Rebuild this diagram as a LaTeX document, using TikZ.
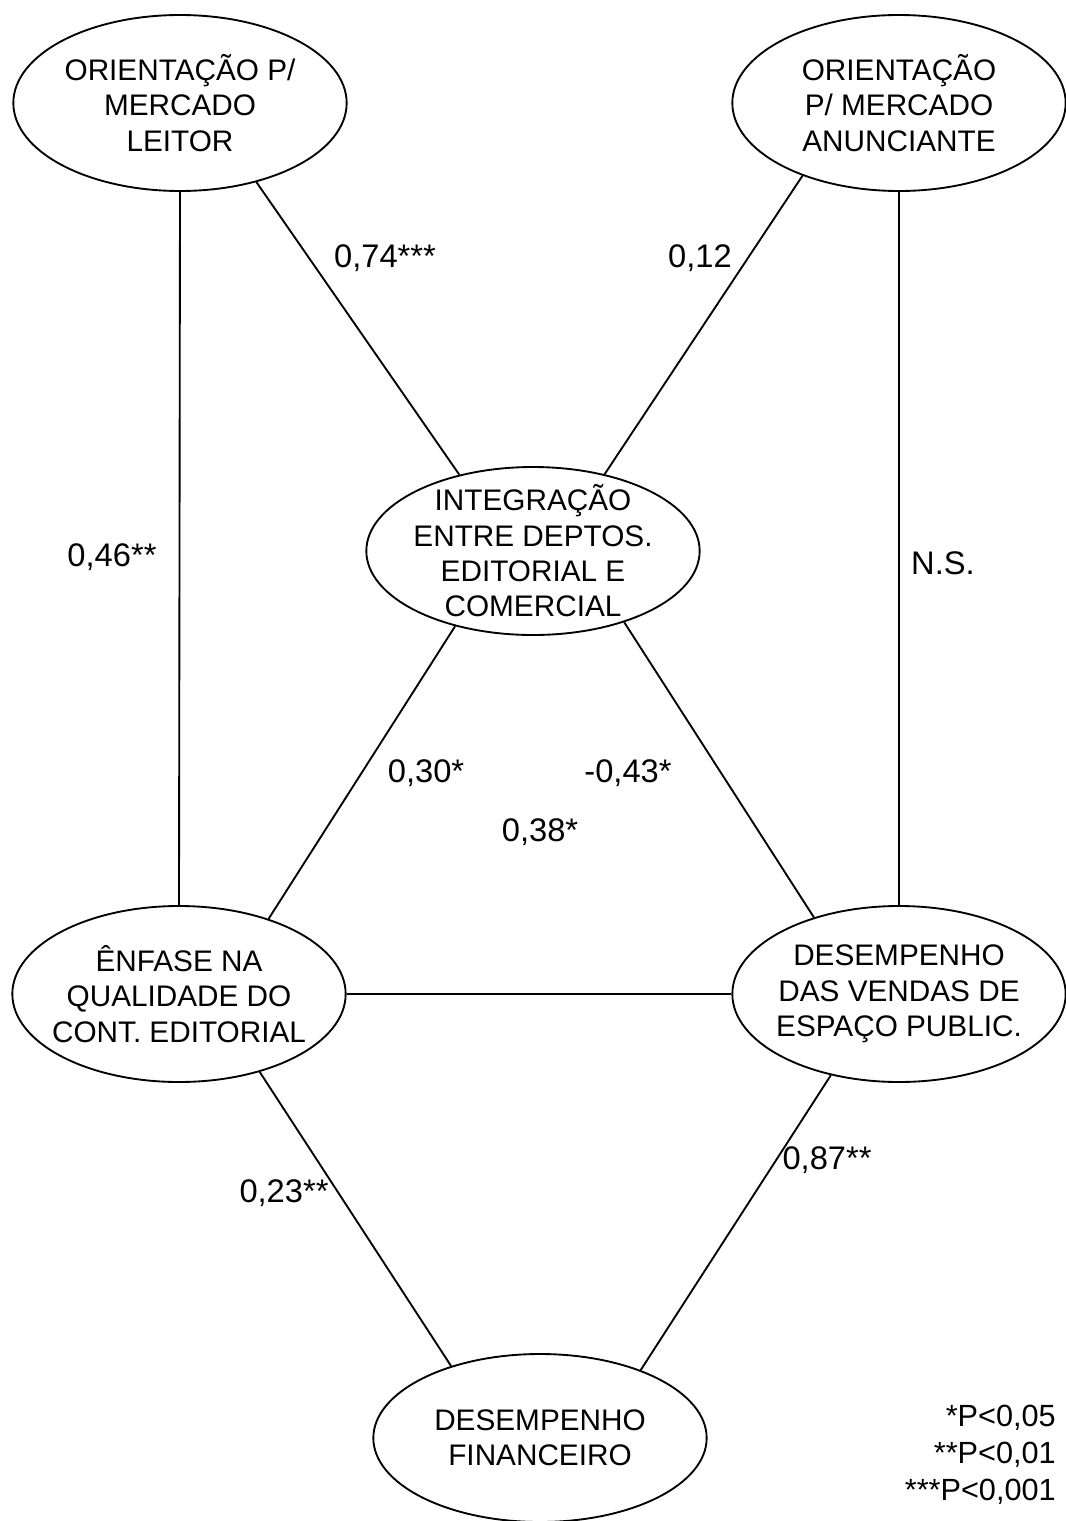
\documentclass[tikz,border=0pt]{standalone}
\usepackage{fontspec}
\setmainfont{Liberation Sans}
\usetikzlibrary{shapes.geometric}
\begin{document}
\begin{tikzpicture}[x=0.75pt,y=-0.75pt,
  % fixed-size ellipse; its text is set as a centred label so it never widens the shape
  construct/.style={ellipse,draw,line width=1.4pt,inner sep=0pt,
    minimum width=250pt,minimum height=132pt,
    label={[align=center,inner sep=0pt,font=\fontsize{22.3}{26.5}\selectfont]center:#1}},
  flat/.style={construct={#1},minimum height=126pt},
  link/.style={line width=1.4pt},
  coef/.style={inner sep=0pt,font=\fontsize{24.5}{28}\selectfont}]
\useasboundingbox (0,0) rectangle (1065,1521);

% constructs
\node[construct={ORIENTAÇÃO P/\\MERCADO\\LEITOR}] (A) at (180,103) {};
\node[construct={ORIENTAÇÃO\\P/ MERCADO\\ANUNCIANTE}] (B) at (899,103) {};
\node[flat={INTEGRAÇÃO\\ENTRE DEPTOS.\\EDITORIAL E\\COMERCIAL}] (C) at (533,551) {};
\node[construct={ÊNFASE NA\\QUALIDADE DO\\CONT. EDITORIAL}] (D) at (179,994) {};
\node[construct={DESEMPENHO\\DAS VENDAS DE\\ESPAÇO PUBLIC.}] (E) at (899,994) {};
\node[flat={DESEMPENHO\\FINANCEIRO}] (F) at (540,1438) {};

% paths between constructs
\draw[link] (A.south) -- (D.north);
\draw[link] (A.-46.7) -- (C.134.6);
\draw[link] (B.-143.1) -- (C.47.1);
\draw[link] (B.south) -- (E.north);
\draw[link] (C.-136) -- (D.40.7);
\draw[link] (C.-38.5) -- (E.138.7);
\draw[link] (D.east) -- (E.west);
\draw[link] (D.-44.3) -- (F.141.6);
\draw[link] (E.-130.8) -- (F.34.8);

% path coefficients
\node[coef] (cAC) at (385,258) {0,74***};
\node[coef] (cBC) at (700,258) {0,12};
\node[coef] (cAD) at (112,557) {0,46**};
\node[coef] (cBE) at (943,563) {N.S.};
\node[coef] (cCD) at (426,773) {0,30*};
\node[coef] (cCE) at (628,773) {-0,43*};
\node[coef] (cDE) at (540,832) {0,38*};
\node[coef] (cDF) at (284,1193) {0,23**};
\node[coef] (cEF) at (827,1160) {0,87**};

% significance legend
\node[coef,align=right,anchor=east,font=\fontsize{23}{27.75}\selectfont] (legend) at (1056,1455) {*P<0,05\\**P<0,01\\***P<0,001};
\end{tikzpicture}
\end{document}
